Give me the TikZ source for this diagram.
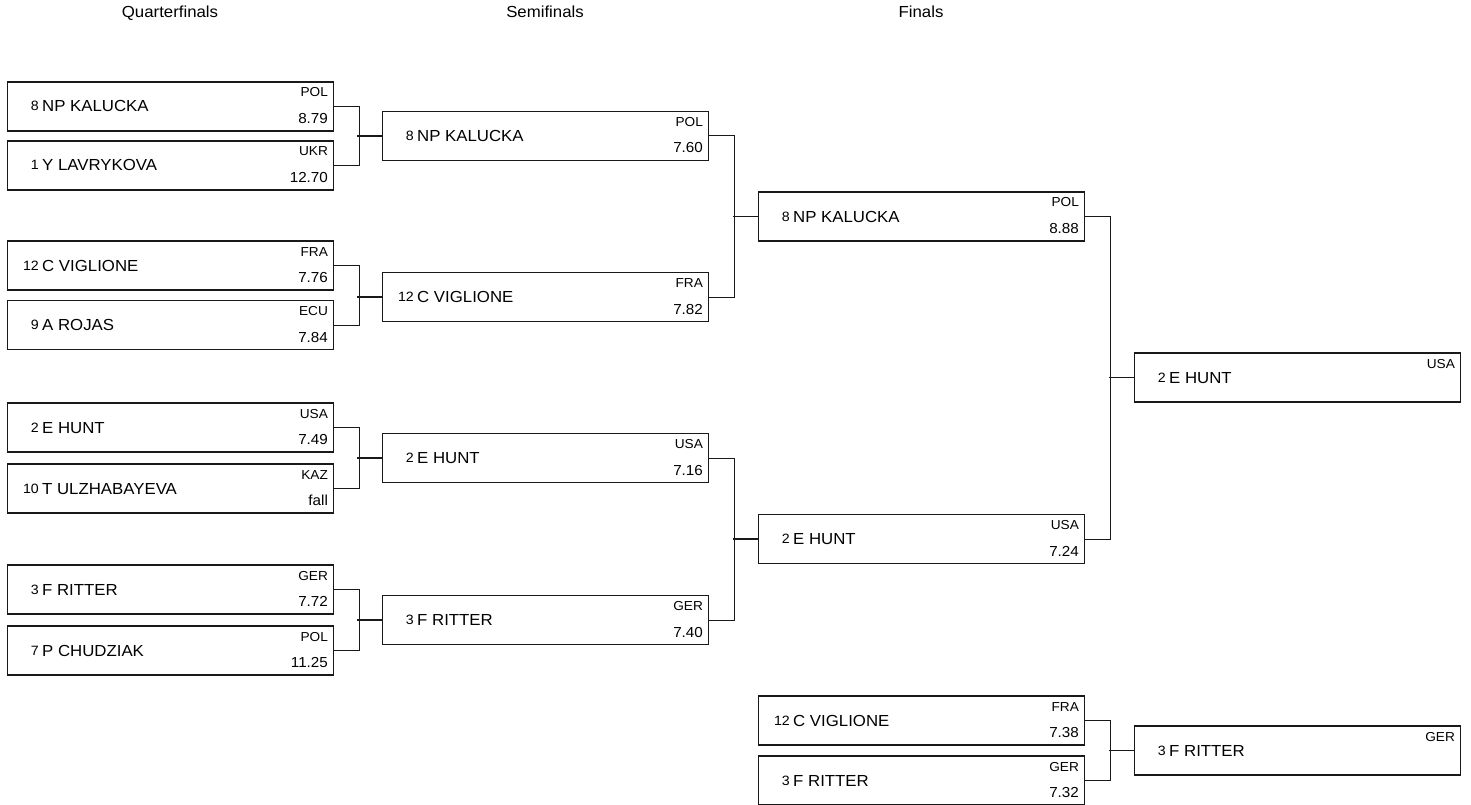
\documentclass[tikz,border=0pt]{standalone}
\usepackage{fontspec}
\setmainfont{Liberation Sans}[FakeStretch=1.05]
\usetikzlibrary{calc}

\tikzset{
  heat/.style={draw=black!90, line width=1.1pt, rectangle, minimum width=326pt,
    minimum height=49pt, inner sep=0pt, anchor=west},
  seedno/.style={font=\fontsize{13.5}{13.5}\selectfont, inner sep=0pt, anchor=base east},
  athlete/.style={font=\fontsize{16}{16}\selectfont, inner sep=0pt, anchor=base west},
  nation/.style={font=\fontsize{13}{13}\selectfont, inner sep=0pt, anchor=base east},
  result/.style={font=\fontsize{14.5}{14.5}\selectfont, inner sep=0pt, anchor=base east},
  round/.style={font=\fontsize{16}{16}\selectfont, inner sep=0pt, anchor=base},
  link/.style={draw=black!90, line width=1pt},
  stub/.style={draw=black!90, line width=1.6pt}
}

% one bracket slot: name, left x, centre y, seed, athlete, nation, result
\newcommand\slot[7]{%
  \node[heat] (#1) at (#2,#3) {};
  \node[seedno] (#1-seed) at ([shift={(32,4.5)}]#1.west) {#4};
  \node[athlete] (#1-name) at ([shift={(35,5.5)}]#1.west) {#5};
  \node[nation] (#1-nat) at ([shift={(-6,-9.5)}]#1.east) {#6};
  \node[result] (#1-res) at ([shift={(-6,17)}]#1.east) {#7};
}

\begin{document}
\begin{tikzpicture}[x=1pt, y=-1pt]
	\useasboundingbox (0,0) rectangle (1471,805);

	% round titles
	\node[round] (tqf) at (170,18) {Quarterfinals};
	\node[round] (tsf) at (545,18) {Semifinals};
	\node[round] (tfn) at (921,18) {Finals};

	% quarterfinals
	\foreach \n/\y/\s/\who/\nat/\res in {qf1/106.5/8/NP KALUCKA/POL/8.79,
		qf2/165.5/1/Y LAVRYKOVA/UKR/12.70, qf3/265.5/12/C VIGLIONE/FRA/7.76,
		qf4/325/9/A ROJAS/ECU/7.84, qf5/427.5/2/E HUNT/USA/7.49,
		qf6/488.5/10/T ULZHABAYEVA/KAZ/fall, qf7/589.5/3/F RITTER/GER/7.72,
		qf8/650.5/7/P CHUDZIAK/POL/11.25}
		\slot{\n}{7}{\y}{\s}{\who}{\nat}{\res};

	% semifinals
	\foreach \n/\y/\s/\who/\nat/\res in {sf1/136/8/NP KALUCKA/POL/7.60,
		sf2/297/12/C VIGLIONE/FRA/7.82, sf3/458/2/E HUNT/USA/7.16,
		sf4/620/3/F RITTER/GER/7.40}
		\slot{\n}{382}{\y}{\s}{\who}{\nat}{\res};

	% finals and small final
	\slot{fn1}{758}{216.5}{8}{NP KALUCKA}{POL}{8.88}
	\slot{fn2}{758}{539}{2}{E HUNT}{USA}{7.24}
	\slot{br1}{758}{720.5}{12}{C VIGLIONE}{FRA}{7.38}
	\slot{br2}{758}{780.5}{3}{F RITTER}{GER}{7.32}

	% placings
	\slot{gold}{1134}{377.5}{2}{E HUNT}{USA}{}
	\slot{bronze}{1134}{750.5}{3}{F RITTER}{GER}{}

	% bracket lines
	\foreach \a/\b/\c in {qf1/qf2/sf1, qf3/qf4/sf2, qf5/qf6/sf3, qf7/qf8/sf4,
		sf1/sf2/fn1, sf3/sf4/fn2, fn1/fn2/gold, br1/br2/bronze} {
		\draw[link] (\a.east) -- ++(25,0) |- (\b.east);
		\draw[stub] (\c.west) -- ++(-25,0);
	}
\end{tikzpicture}
\end{document}
